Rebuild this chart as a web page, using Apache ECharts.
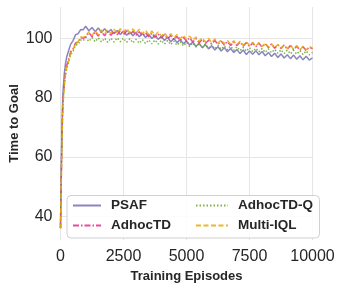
<!DOCTYPE html>
<html><head><meta charset="utf-8">
<script src="https://cdn.jsdelivr.net/npm/echarts@6/dist/echarts.min.js"></script>
<style>html,body{margin:0;padding:0;background:#fff}#c{width:346px;height:291px}</style>
</head><body><div id="c"></div>
<script>
const episodes = [0,25,50,75,100,150,200,250,300,400,500,600,700,800,900,
1000,1125,1250,1375,1500,1625,1750,1875,
2000,2125,2250,2375,2500,2625,2750,2875,
3000,3125,3250,3375,3500,3625,3750,3875,
4000,4125,4250,4375,4500,4625,4750,4875,
5000,5125,5250,5375,5500,5625,5750,5875,
6000,6125,6250,6375,6500,6625,6750,6875,
7000,7125,7250,7375,7500,7625,7750,7875,
8000,8125,8250,8375,8500,8625,8750,8875,
9000,9125,9250,9375,9500,9625,9750,9875,
10000];

const psaf = [36,52,66,76,82,88,91.5,93.8,95.2,97.9,99.2,101.2,101.5,102.9,102.8,
104.0,102.5,103.6,102.2,103.4,102.0,103.2,101.9,
102.9,101.5,102.6,101.2,102.4,101.0,102.1,100.8,
101.9,100.5,101.6,100.2,101.3,99.9,101.0,99.6,
100.6,99.2,100.3,98.8,99.9,98.5,99.5,98.1,
99.1,97.7,98.7,97.2,98.3,96.8,97.8,96.4,
97.4,96.0,97.1,95.7,96.8,95.4,96.5,95.2,
96.2,94.8,96.0,94.5,95.7,94.6,95.8,94.4,
95.5,94.1,95.2,93.8,94.9,93.5,94.7,93.3,
94.4,93.1,94.3,92.9,94.1,92.7,93.9,92.6,
93.4];

const adhocTD = [36,50,63,73,79,85,88.5,90.8,92.2,95.4,96.4,98.4,98.6,100.2,100.0,
100.4,101.9,100.5,102.1,100.7,102.2,100.8,102.3,
101.0,102.4,101.1,102.6,101.2,102.5,101.1,102.3,
101.0,102.2,100.8,101.9,100.5,101.7,100.3,101.4,
100.1,101.2,99.8,100.9,99.5,100.6,99.2,100.3,
99.0,100.1,98.7,99.8,98.5,99.6,98.2,99.3,
98.1,99.2,97.9,99.0,97.7,98.8,97.5,98.7,
97.5,98.7,97.3,98.5,97.2,98.4,97.1,98.3,
97.0,98.2,96.8,98.0,96.6,97.8,96.5,97.6,
96.3,97.5,96.1,97.3,95.9,97.1,95.8,97.0,
96.4];

const adhocTDQ = [36,50,62,72,78,84,87.5,89.8,91.2,94.4,95.6,97.7,97.9,99.4,99.1,
100.3,98.9,100.2,98.8,100.1,98.7,100.0,98.6,
100.0,98.7,100.1,98.8,100.0,98.6,99.8,98.4,
99.6,98.3,99.5,98.2,99.4,98.1,99.4,98.0,
99.3,98.0,99.2,97.8,99.0,97.6,98.8,97.4,
98.6,97.2,98.4,97.0,98.2,96.8,98.0,96.6,
97.8,96.4,97.6,96.3,97.4,96.1,97.3,95.9,
97.1,95.8,96.9,95.6,96.8,95.5,96.6,95.4,
96.5,95.2,96.4,95.1,96.2,94.9,96.1,94.8,
96.0,94.7,95.9,94.6,95.8,94.5,95.7,94.4,
95.2];

const multiIQL = [36,49,61,71,78,84,88,90.3,91.7,94.9,96.1,98.4,98.8,100.4,100.2,
100.8,102.2,100.9,102.5,101.2,102.7,101.4,102.9,
101.6,103.0,101.7,103.2,101.9,103.3,101.8,103.1,
101.7,103.0,101.5,102.7,101.2,102.4,100.9,102.1,
100.7,101.8,100.4,101.5,100.1,101.2,99.8,101.0,
99.6,100.7,99.3,100.4,99.0,100.1,98.7,99.9,
98.5,99.7,98.3,99.4,98.1,99.2,97.9,99.1,
97.8,99.0,97.6,98.8,97.5,98.6,97.3,98.5,
97.2,98.4,97.0,98.1,96.8,97.9,96.6,97.8,
96.5,97.7,96.3,97.5,96.1,97.3,96.0,97.2,
96.6];

const xTicks = [0,2500,5000,7500,10000];
const yTicks = [40,60,80,100];
const names = ['PSAF','AdhocTD','AdhocTD-Q','Multi-IQL'];

const pair = arr => episodes.map((e,i)=>[e,arr[i]]);
const font = '"Liberation Sans", Arial, sans-serif';
const chart = echarts.init(document.getElementById('c'), null, {renderer:'canvas'});
const mk = (name, arr, color, type) => ({
  name, type:'line', data:pair(arr), symbol:'none', showSymbol:false,
  lineStyle:{color, width:1.5, type, opacity:0.85}, itemStyle:{color}, z:2
});
const legTxt = {fontFamily:font, fontWeight:'bold', fontSize:13.5, color:'#262626', padding:[0,0,0,5]};
chart.setOption({
  animation:false,
  backgroundColor:'#fff',
  grid:{left:60.5, right:33.5, top:7, bottom:51, containLabel:false, outerBoundsMode:'none'},
  xAxis:{type:'value', min:0, max:10000, interval:2500,
    name:'Training Episodes', nameLocation:'middle', nameGap:30, nameMoveOverlap:false,
    nameTextStyle:{fontFamily:font, fontWeight:'bold', fontSize:13, color:'#262626'},
    axisLine:{show:false}, axisTick:{show:false},
    axisLabel:{fontFamily:font, fontSize:16, color:'#262626', margin:9,
      formatter: v => String(v)},
    splitLine:{show:true, lineStyle:{color:'#e6e6e6', width:1}}},
  yAxis:{type:'value', min:32, max:110.5,
    name:'Time to Goal', nameLocation:'middle', nameGap:40, nameMoveOverlap:false,
    nameTextStyle:{fontFamily:font, fontWeight:'bold', fontSize:13, color:'#262626'},
    axisLine:{show:false}, axisTick:{show:false, customValues:yTicks},
    axisLabel:{fontFamily:font, fontSize:16, color:'#262626', margin:8, customValues:yTicks},
    splitLine:{show:true, lineStyle:{color:'#e6e6e6', width:1}}},
  graphic:[{type:'rect', left:66.5, top:195, shape:{width:252.5, height:42.5, r:4},
    style:{fill:'rgba(255,255,255,0.85)', stroke:'#d0d0d0', lineWidth:1}, z:10}],
  legend:[
    {data:['PSAF','AdhocTD'], orient:'vertical', left:72, top:198.5, padding:0, itemWidth:28, itemHeight:14, itemGap:6,
     itemStyle:{opacity:0}, z:20, textStyle:legTxt},
    {data:['AdhocTD-Q','Multi-IQL'], orient:'vertical', left:195, top:198.5, padding:0, itemWidth:32, itemHeight:14, itemGap:6,
     itemStyle:{opacity:0}, z:20, textStyle:legTxt}
  ],
  series:[
    mk('PSAF', psaf, '#7570b3', 'solid'),
    mk('AdhocTD', adhocTD, '#e7298a', [6,2,1.5,2]),
    mk('AdhocTD-Q', adhocTDQ, '#66a61e', [1.5,2]),
    mk('Multi-IQL', multiIQL, '#e6ab02', [5,2.5])
  ]
});
</script></body></html>
